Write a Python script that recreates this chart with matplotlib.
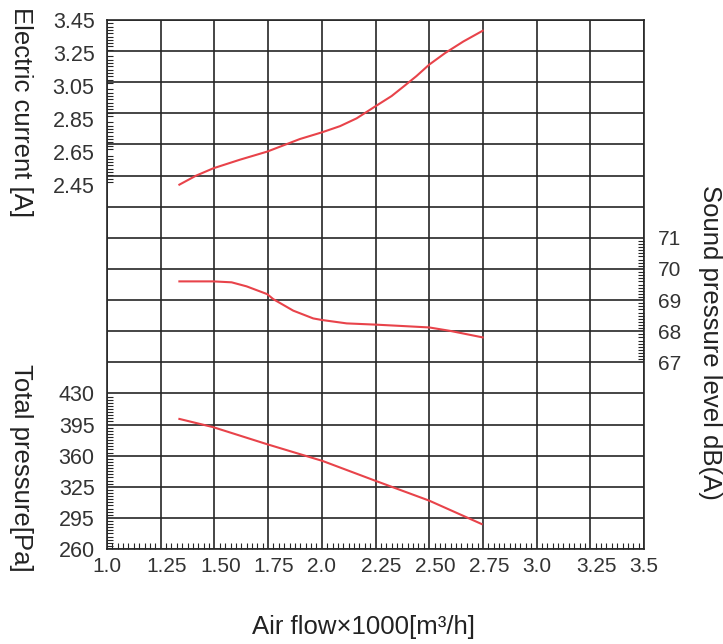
"""
Fan performance curve: current, sound level and total pressure vs air flow.
"""

import numpy as np
import matplotlib
matplotlib.use("Agg")
import matplotlib.pyplot as plt
from matplotlib.ticker import FixedLocator, FixedFormatter, NullFormatter
from matplotlib.transforms import ScaledTranslation

plt.rcParams['font.family'] = ['Liberation Sans', 'DejaVu Sans']

# air flow in 1000 m3/h
flow_ticks = [1.0, 1.25, 1.5, 1.75, 2.0, 2.25, 2.5, 2.75, 3.0, 3.25, 3.5]
flow_ticklabels = ['1.0', '1.25', '1.50', '1.75', '2.0', '2.25', '2.50',
                   '2.75', '3.0', '3.25', '3.5']

# electric current [A]
current_flow = [1.337, 1.414, 1.495, 1.619, 1.746, 1.898, 2.002, 2.085,
                2.162, 2.252, 2.325, 2.383, 2.44, 2.50, 2.574, 2.659, 2.749]
current = [2.454, 2.508, 2.553, 2.605, 2.654, 2.73, 2.771, 2.808,
           2.855, 2.93, 2.99, 3.05, 3.11, 3.18, 3.25, 3.32, 3.385]
current_ticks = [2.45, 2.65, 2.85, 3.05, 3.25, 3.45]

# sound pressure level dB(A)
sound_flow = [1.337, 1.495, 1.58, 1.65, 1.746, 1.774, 1.867, 1.96, 2.0,
              2.116, 2.252, 2.364, 2.5, 2.597, 2.749]
sound = [69.60, 69.60, 69.57, 69.44, 69.19, 69.03, 68.66, 68.41, 68.36,
         68.25, 68.21, 68.17, 68.12, 68.01, 67.80]
sound_ticks = [67, 68, 69, 70, 71]

# total pressure, in the units of the (evenly spaced) pressure grid
pressure_flow = [1.337, 1.495, 1.746, 2.004, 2.252, 2.50, 2.744]
pressure = [406.3, 397.0, 377.8, 359.0, 336.5, 314.4, 288.1]
pressure_ticks = [260, 295, 330, 365, 400, 435]
pressure_ticklabels = ['260', '295', '325', '360', '395', '430']

red = '#e8434a'
grid_col = '#262626'
txt_col = '#333333'

fig = plt.figure(figsize=(7.23, 6.44), dpi=100)
rect = [107 / 723, 95 / 644, 537 / 723, 529 / 644]

# base axes only carries the frame and the grid
base = fig.add_axes(rect)
base.set_xlim(1.0, 3.5)
base.set_ylim(0, 17)
base.set_yticks(np.arange(0, 18))
base.yaxis.set_major_formatter(NullFormatter())
base.tick_params(axis='y', length=0)
base.set_xticks(flow_ticks)
base.set_xticklabels(flow_ticklabels)
base.set_xticks(np.arange(1.0, 3.5001, 0.025), minor=True)
base.tick_params(axis='x', which='major', length=0, pad=6,
                 labelsize=15, labelcolor=txt_col)
base.tick_params(axis='x', which='minor', direction='in', length=4,
                 width=0.8, color=grid_col)
base.grid(True, which='major', color=grid_col, linewidth=1.2)
for s in base.spines.values():
    s.set_color(grid_col)
    s.set_linewidth(1.2)
# the two-decimal labels sit a little right of their grid line
shift = ScaledTranslation(0.06, 0, fig.dpi_scale_trans)
for t in base.get_xticklabels():
    if len(t.get_text()) == 4:
        t.set_transform(t.get_transform() + shift)


def overlay(ylim):
    ax = fig.add_axes(rect)
    ax.patch.set_visible(False)
    for s in ax.spines.values():
        s.set_visible(False)
    ax.set_xlim(1.0, 3.5)
    ax.set_ylim(*ylim)
    ax.set_xticks([])
    return ax


ax_i = overlay((0.25, 3.45))
ax_i.plot(current_flow, current, color=red, lw=1.5)
ax_i.yaxis.set_major_locator(FixedLocator(current_ticks))
ax_i.yaxis.set_minor_locator(FixedLocator(np.arange(2.45, 3.4501, 0.02)))
ax_i.tick_params(axis='y', which='major', length=0, pad=9,
                 labelsize=15.5, labelcolor=txt_col)
ax_i.tick_params(axis='y', which='minor', direction='in', length=4,
                 width=0.8, color=grid_col)

ax_p = overlay((260, 260 + 17 * 35))
ax_p.plot(pressure_flow, pressure, color=red, lw=1.5)
ax_p.yaxis.set_major_locator(FixedLocator(pressure_ticks))
ax_p.yaxis.set_major_formatter(FixedFormatter(pressure_ticklabels))
ax_p.yaxis.set_minor_locator(FixedLocator(np.arange(260, 435.01, 3.5)))
ax_p.tick_params(axis='y', which='major', length=0, pad=9,
                 labelsize=15.5, labelcolor=txt_col)
ax_p.tick_params(axis='y', which='minor', direction='in', length=4,
                 width=0.8, color=grid_col)

ax_s = overlay((61, 78))
ax_s.plot(sound_flow, sound, color=red, lw=1.5)
ax_s.yaxis.tick_right()
ax_s.yaxis.set_major_locator(FixedLocator(sound_ticks))
ax_s.yaxis.set_minor_locator(FixedLocator(np.arange(67, 70.91, 0.1)))
ax_s.tick_params(axis='y', which='major', length=0, pad=10,
                 labelsize=15, labelcolor=txt_col)
ax_s.tick_params(axis='y', which='minor', direction='in', length=4,
                 width=0.8, color=grid_col)

lab = dict(fontsize=18.5, color='#222222', ha='center', va='center')
fig.text(21 / 723, 1 - 112 / 644, 'Electric current [A]', rotation=270, **lab)
fig.text(21 / 723, 1 - 468 / 644, 'Total pressure[Pa]', rotation=270, **lab)
fig.text(710 / 723, 1 - 342 / 644, 'Sound pressure level dB(A)',
         rotation=270, **lab)
fig.text(364 / 723, 1 - 627 / 644, 'Air flow×1000[m³/h]', **lab)

fig.savefig('out.png', dpi=100)
